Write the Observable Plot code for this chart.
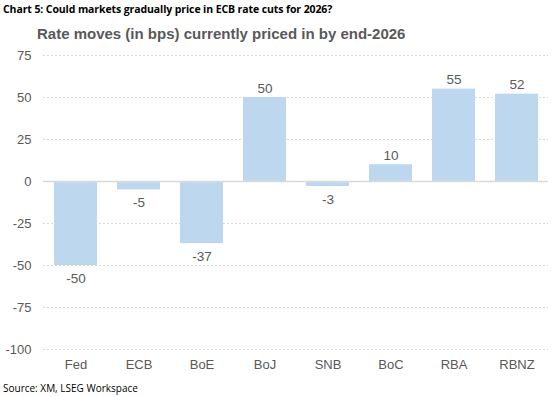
<!DOCTYPE html>
<html><head><meta charset="utf-8">
<script src="https://cdn.jsdelivr.net/npm/d3@7"></script>
<script src="https://cdn.jsdelivr.net/npm/@observablehq/plot@0.6"></script>
<style>
body{margin:0;background:#fff;}
#wrap{position:relative;width:553px;height:397px;overflow:hidden;font-family:"Liberation Sans",Arial,sans-serif;}
#t1{position:absolute;left:3px;top:2px;font-family:"Open Sans","Noto Sans",sans-serif;font-weight:700;font-size:10.5px;color:#000;letter-spacing:-0.1px;}
#t2{position:absolute;left:37px;top:25px;font-weight:700;font-size:15px;color:#595959;}
#src{position:absolute;left:3px;top:381px;font-family:"Open Sans","Noto Sans",sans-serif;font-size:10px;color:#000;}
#chart{position:absolute;left:0;top:0;}
</style></head>
<body><div id="wrap">
<div id="chart"></div>
<div id="t1">Chart 5: Could markets gradually price in ECB rate cuts for 2026?</div>
<div id="t2">Rate moves (in bps) currently priced in by end-2026</div>
<div id="src">Source: XM, LSEG Workspace</div>
</div>
<script>
const banks = ["Fed","ECB","BoE","BoJ","SNB","BoC","RBA","RBNZ"];
const moves = [-50,-5,-37,50,-3,10,55,52];
const yTicks = [75,50,25,0,-25,-50,-75,-100];
const data = banks.map((b,i)=>({bank:b, value:moves[i]}));
const gray = "#595959";
const plot = Plot.plot({
  width:553, height:397,
  marginTop:55, marginBottom:48, marginLeft:43, marginRight:5,
  style:{fontFamily:"Liberation Sans, Arial, sans-serif", fontSize:"13px", color:gray, background:"transparent"},
  x:{domain:banks, paddingInner:0.32, paddingOuter:0.16, label:null},
  y:{domain:[-100,75], label:null},
  marks:[
    Plot.ruleY(yTicks.filter(d=>d!==0), {stroke:"#d9d9d9", strokeDasharray:"2,2", strokeWidth:1}),
    Plot.barY(data, {x:"bank", y:"value", fill:"#bdd7ee"}),
    Plot.ruleY([0], {stroke:"#d9d9d9", strokeWidth:1.5}),
    Plot.text(data.filter(d=>d.value>=0), {x:"bank", y:"value", text:d=>String(d.value), dy:-9, fill:gray, fontSize:13.5}),
    Plot.text(data.filter(d=>d.value<0), {x:"bank", y:"value", text:d=>String(d.value), dy:13, fill:gray, fontSize:13.5}),
    Plot.axisX({tickSize:0, tickPadding:10, fontSize:13, fill:gray}),
    Plot.axisY({ticks:yTicks, tickFormat:d=>String(d), tickSize:0, tickPadding:12, fontSize:13, fill:gray})
  ]
});
document.getElementById("chart").appendChild(plot);
</script>
</body></html>
